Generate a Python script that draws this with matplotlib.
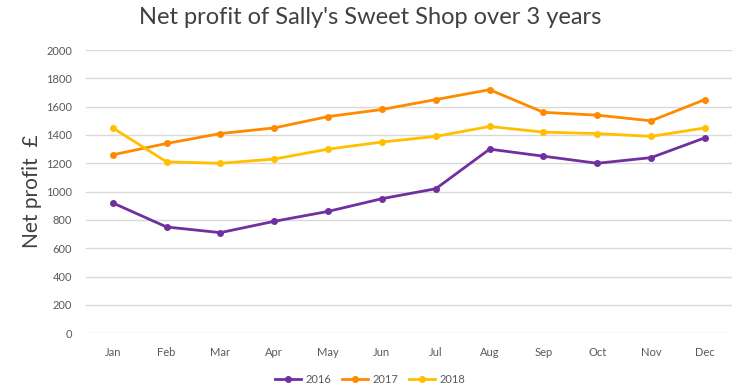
import matplotlib
matplotlib.use("Agg")
import matplotlib.pyplot as plt

months = ["Jan", "Feb", "Mar", "Apr", "May", "Jun", "Jul", "Aug", "Sep", "Oct", "Nov", "Dec"]
profit_2016 = [920, 750, 710, 790, 860, 950, 1020, 1300, 1250, 1200, 1240, 1380]
profit_2017 = [1260, 1340, 1410, 1450, 1530, 1580, 1650, 1720, 1560, 1540, 1500, 1650]
profit_2018 = [1450, 1210, 1200, 1230, 1300, 1350, 1390, 1460, 1420, 1410, 1390, 1450]

plt.rcParams['font.family'] = ['Lato', 'DejaVu Sans']

fig = plt.figure(figsize=(7.4, 3.91), dpi=100)
ax = fig.add_axes([0.116, 0.148, 0.873, 0.724])

x = range(len(months))
ax.plot(x, profit_2016, color="#7030A0", marker="o", markersize=4, linewidth=2, label="2016")
ax.plot(x, profit_2017, color="#FF8A00", marker="o", markersize=4, linewidth=2, label="2017")
ax.plot(x, profit_2018, color="#FFC000", marker="o", markersize=4, linewidth=2, label="2018")

ax.set_xlim(-0.5, 11.5)
ax.set_ylim(0, 2000)
ax.set_yticks(range(0, 2001, 200))
ax.set_xticks(list(x))
ax.set_xticklabels(months)
ax.grid(axis="y", color="#d9d9d9", linewidth=1)
ax.set_axisbelow(True)
for s in ax.spines.values():
    s.set_visible(False)
ax.tick_params(length=0, labelsize=8, colors="#595959", pad=10)

ax.set_ylabel("Net profit  £", fontsize=15, color="#404040", labelpad=3)
fig.text(0.5, 0.955, "Net profit of Sally's Sweet Shop over 3 years", ha="center", va="center",
         fontsize=17, color="#404040")

fig.legend(loc="lower center", bbox_to_anchor=(0.5, -0.01), ncol=3, frameon=False,
           fontsize=8, handlelength=2.3, handletextpad=0.4, columnspacing=1.0,
           labelcolor="#595959")

fig.savefig("out.png", dpi=100)
